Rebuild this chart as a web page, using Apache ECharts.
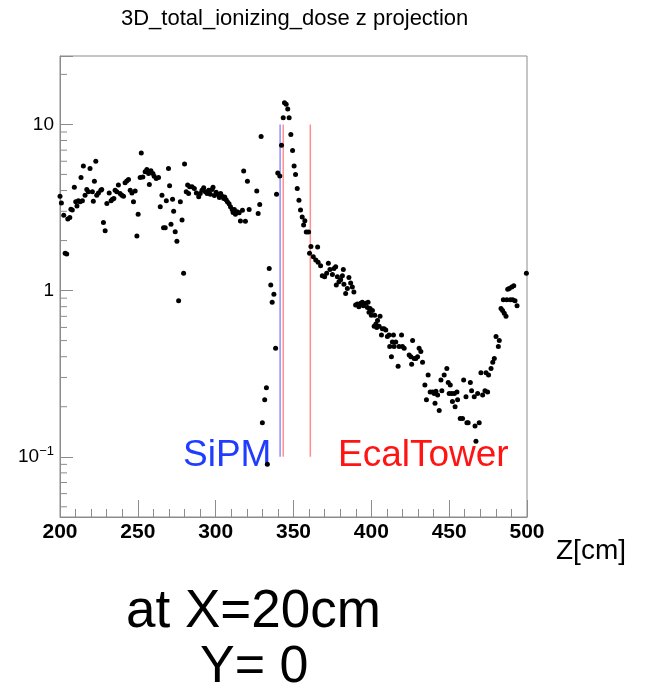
<!DOCTYPE html>
<html>
<head>
<meta charset="utf-8">
<script src="https://cdn.jsdelivr.net/npm/echarts@6/dist/echarts.min.js"></script>
<style>html,body{margin:0;padding:0;background:#fff;}#c{width:656px;height:694px;}</style>
</head>
<body>
<div id="c"></div>
<script>
const zVals = [200.0,200.9,202.4,203.3,204.3,205.0,206.3,207.0,207.9,209.2,210.1,210.9,211.8,212.9,213.5,214.4,215.0,216.1,217.2,218.2,219.3,220.8,221.4,222.1,223.0,223.6,224.7,226.2,226.8,227.9,229.0,230.1,231.6,232.8,233.7,234.6,235.4,236.5,237.5,238.6,239.7,240.8,241.8,242.9,244.0,245.1,246.2,247.2,248.3,249.4,250.2,251.5,252.2,253.2,254.7,255.8,256.9,257.4,258.4,259.7,260.5,261.8,263.3,264.4,265.5,266.5,267.6,268.3,269.7,270.4,271.3,272.3,273.0,274.0,275.1,276.2,277.3,278.4,279.4,280.0,281.1,282.0,282.6,283.3,284.8,286.3,287.6,289.1,290.1,291.2,292.3,293.4,294.5,295.5,296.6,297.7,298.3,299.2,300.3,301.7,302.4,303.2,304.1,305.2,305.8,306.7,307.5,308.6,309.5,310.6,311.2,312.0,312.7,313.8,315.1,315.9,317.2,318.0,319.1,320.4,321.5,326.4,327.3,328.3,329.2,330.0,331.5,332.6,333.2,334.4,335.4,336.3,337.4,338.5,339.1,339.9,341.2,342.3,343.4,344.2,345.3,346.3,347.2,348.3,349.4,350.4,351.3,352.4,353.5,354.5,355.6,356.5,357.3,358.2,359.7,360.3,361.2,362.7,364.3,365.5,365.8,367.4,368.5,370.0,371.3,372.4,373.4,375.0,376.0,377.1,377.5,378.2,379.2,380.3,381.4,382.0,382.4,383.5,384.6,385.6,386.7,387.8,388.8,389.9,391.0,392.0,393.2,394.2,394.9,396.4,397.5,397.9,398.5,399.2,400.0,400.7,401.8,402.2,402.9,403.5,404.0,405.0,405.6,406.5,407.1,408.2,409.3,410.3,411.4,411.8,412.9,413.5,414.2,414.6,415.7,417.2,417.8,419.4,420.0,421.1,424.3,425.4,425.9,426.5,427.5,428.6,429.7,430.7,431.8,432.9,434.4,435.4,436.5,437.8,439.3,440.4,440.9,441.5,442.6,443.6,444.7,445.3,446.8,448.5,449.4,450.0,450.7,451.6,452.1,453.3,453.8,455.0,455.4,457.1,458.6,459.3,460.8,461.4,462.2,463.6,464.4,466.1,466.6,467.2,468.3,469.3,470.4,471.5,473.0,473.7,474.7,475.3,476.9,478.0,479.0,480.1,481.6,482.2,483.3,484.3,484.8,485.4,486.5,487.0,487.6,488.6,489.3,490.2,490.8,491.5,492.3,493.6,499.6];
const doseVals = [3.70,3.37,2.84,1.68,1.66,2.70,2.75,3.09,3.05,4.18,3.42,3.23,3.47,3.42,4.79,3.47,5.61,3.75,4.06,3.93,5.43,3.93,3.45,4.55,6.00,3.75,3.87,4.02,4.06,2.57,2.29,3.34,3.87,3.47,3.54,3.58,4.02,3.93,4.32,3.84,3.75,3.70,4.45,4.57,4.66,4.02,3.87,3.42,3.98,2.13,2.88,4.79,6.74,4.83,5.18,5.36,5.07,4.35,5.26,5.07,4.88,4.73,4.79,3.19,3.75,2.39,2.39,3.47,5.43,4.27,2.51,3.54,3.00,2.26,1.98,0.87,3.42,2.66,1.27,5.77,3.93,4.32,3.84,4.21,4.21,4.12,3.87,3.67,3.84,4.02,4.16,3.93,3.84,4.02,3.80,4.06,4.18,3.73,3.90,3.79,3.63,3.84,3.70,3.58,3.66,3.52,3.42,3.33,3.19,3.08,2.95,3.08,2.88,2.98,2.94,2.62,3.04,5.24,2.61,4.55,3.08,3.97,2.91,3.30,8.47,0.16,0.22,0.26,0.09,1.36,1.08,0.85,0.95,0.45,3.80,5.10,4.90,7.50,10.96,13.5,13.2,12.4,10.96,8.70,6.97,5.61,5.00,4.12,3.50,3.05,2.77,2.48,2.63,2.25,2.25,1.68,1.84,1.60,1.53,1.83,1.48,1.41,1.23,1.21,1.27,1.46,1.34,1.25,1.36,1.39,1.08,1.21,1.13,1.16,1.23,1.34,1.09,0.96,1.03,1.20,1.11,1.05,0.98,0.82,0.83,0.80,0.84,0.85,0.81,0.84,0.79,0.85,0.74,0.78,0.71,0.76,0.61,0.71,0.63,0.60,0.66,0.61,0.70,0.54,0.59,0.59,0.58,0.53,0.54,0.46,0.40,0.49,0.54,0.46,0.49,0.35,0.46,0.54,0.46,0.45,0.41,0.40,0.36,0.50,0.39,0.39,0.40,0.45,0.43,0.37,0.27,0.22,0.31,0.245,0.245,0.24,0.21,0.248,0.235,0.19,0.29,0.25,0.31,0.34,0.28,0.24,0.27,0.24,0.215,0.24,0.20,0.245,0.22,0.17,0.17,0.29,0.23,0.16,0.16,0.28,0.25,0.23,0.153,0.124,0.24,0.16,0.32,0.235,0.25,0.32,0.245,0.31,0.34,0.37,0.39,0.53,0.46,0.50,0.78,0.76,0.88,0.73,0.70,0.88,1.02,1.03,0.88,1.05,0.88,1.07,0.87,0.81,1.27];

const sipmLineZ = [341.4];
const ecalLineZ = [343.4, 360.8];
const lineRange = [0.1, 10];
const yMinorTicks = [0.05,0.06,0.07,0.08,0.09,0.2,0.3,0.4,0.5,0.6,0.7,0.8,0.9,2,3,4,5,6,7,8,9,20];

const FONT = '"Liberation Sans", Arial, Helvetica, sans-serif';
const AXIS_COLOR = '#8c8c8c';

const chart = echarts.init(document.getElementById('c'), null, {renderer: 'canvas'});

const pts = zVals.map((z, i) => [z, doseVals[i]]);

function vline(z, color) {
  return {
    type: 'line', data: lineRange.map(v => [z, v]), symbol: 'none', silent: true, z: 1,
    lineStyle: {color: color, width: 1.5}, animation: false
  };
}

chart.setOption({
  animation: false,
  backgroundColor: '#fff',
  grid: {left: 60, top: 56, width: 467, height: 461, show: true, borderColor: AXIS_COLOR, borderWidth: 1, backgroundColor: 'transparent'},
  xAxis: {
    type: 'value', min: 200, max: 500, interval: 50,
    axisLine: {show: true, onZero: false, lineStyle: {color: AXIS_COLOR}},
    axisTick: {show: true, inside: true, length: 17, lineStyle: {color: AXIS_COLOR}},
    minorTick: {show: true, splitNumber: 5, length: 8, lineStyle: {color: AXIS_COLOR}},
    splitLine: {show: false},
    axisLabel: {color: '#000', fontFamily: FONT, fontWeight: 'bold', fontSize: 21, margin: 5}
  },
  yAxis: {
    type: 'log', logBase: 10, min: 0.0434, max: 25.8,
    axisLine: {show: true, lineStyle: {color: AXIS_COLOR}},
    axisTick: {show: true, inside: true, length: 13, lineStyle: {color: AXIS_COLOR}},
    splitLine: {show: false},
    minorTick: {show: false},
    axisLabel: {
      color: '#000', fontFamily: FONT, fontSize: 19, margin: 6,
      formatter: function (v) {
        if (Math.abs(v - 0.1) < 1e-6) return '{b|10}{s|−1}';
        if (Math.abs(v - 1) < 1e-6) return '1';
        if (Math.abs(v - 10) < 1e-6) return '10';
        return '';
      },
      rich: {
        b: {fontFamily: FONT, fontSize: 19, color: '#000'},
        s: {fontFamily: FONT, fontSize: 13, color: '#000', verticalAlign: 'top', padding: [0, 0, 10, 0]}
      }
    }
  },
  series: [
    vline(sipmLineZ[0], '#8f8fff'),
    vline(ecalLineZ[0], '#ff8f8f'),
    vline(ecalLineZ[1], '#ff8f8f'),
    {
      type: 'custom', silent: true, clip: false, z: 3,
      data: yMinorTicks.map(v => [200, v]),
      renderItem: function (params, api) {
        const c = api.coord([api.value(0), api.value(1)]);
        return {type: 'line', shape: {x1: c[0], y1: c[1], x2: c[0] + 7, y2: c[1]}, style: {stroke: AXIS_COLOR, lineWidth: 1}};
      }
    },
    {
      type: 'scatter', data: pts, symbol: 'circle', symbolSize: 5, z: 5,
      itemStyle: {color: '#000', opacity: 1}, silent: true
    }
  ],
  graphic: [
    {type: 'text', left: 121, top: 8, style: {text: '3D_total_ionizing_dose z projection', font: '22px ' + FONT, fill: '#000'}},
    {type: 'text', left: 183, top: 437, style: {text: 'SiPM', font: '37px ' + FONT, fill: '#1f3cff'}},
    {type: 'text', left: 338, top: 437, style: {text: 'EcalTower', font: '37px ' + FONT, fill: '#ff1414'}},
    {type: 'text', left: 556, top: 537, style: {text: 'Z[cm]', font: '28px ' + FONT, fill: '#000'}},
    {type: 'text', left: 126, top: 586, style: {text: 'at X=20cm', font: '53px ' + FONT, fill: '#000'}},
    {type: 'text', left: 200, top: 642, style: {text: 'Y= 0', font: '52px ' + FONT, fill: '#000'}}
  ]
});
</script>
</body>
</html>
